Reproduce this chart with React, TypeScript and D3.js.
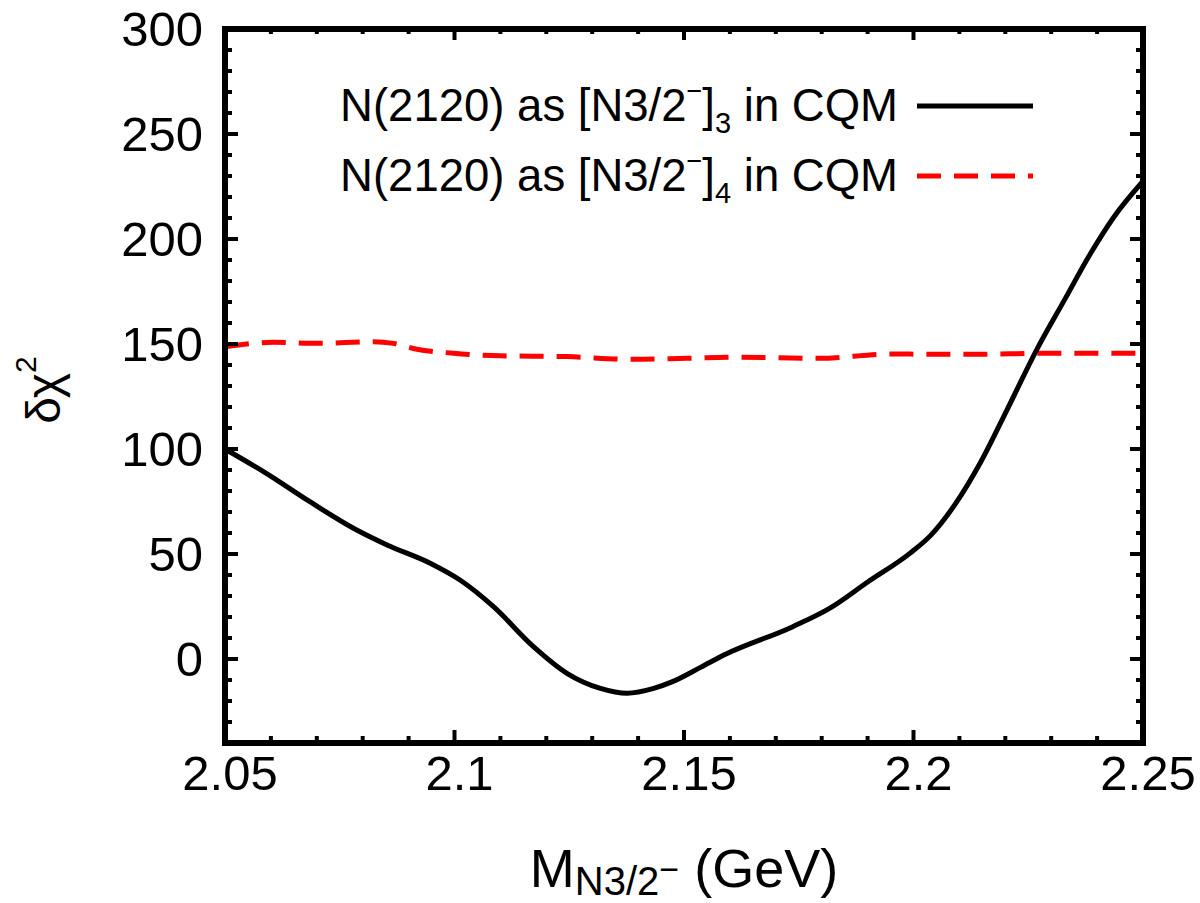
import React from "react";
import * as d3 from "d3";

// Solid curve: N(2120) assigned to the third N3/2- state of the CQM
const massSolid = [2.05, 2.059, 2.0685, 2.0787, 2.0853, 2.0947, 2.1012, 2.1085, 2.1172, 2.1245, 2.1318, 2.1376, 2.1434, 2.1475, 2.1536, 2.1587, 2.1737, 2.1817, 2.1901, 2.1992, 2.2038, 2.2092, 2.2145, 2.2207, 2.2268, 2.2329, 2.2386, 2.2437, 2.25];
const chi2Solid = [100, 88.4, 74.9, 61.4, 54.3, 45.6, 37.6, 24.9, 5.9, -6.8, -14.0, -16.3, -14.0, -10.8, -4.0, 1.9, 15.4, 24.1, 36.8, 50.3, 59.0, 74.1, 93.2, 120.1, 147.1, 171, 193.2, 210.6, 227.5];

// Dashed curve: N(2120) assigned to the fourth N3/2- state of the CQM
const massDashed = [2.05, 2.0605, 2.07, 2.0823, 2.0867, 2.0918, 2.0998, 2.11, 2.1245, 2.1383, 2.1507, 2.1618, 2.1794, 2.1947, 2.2115, 2.2306, 2.25];
const chi2Dashed = [148.7, 150.8, 150.3, 151.1, 150.3, 147.5, 145.6, 144.4, 144.0, 142.7, 143.2, 143.7, 143.2, 145.2, 145.1, 145.6, 145.6];

const xTickValues = [2.05, 2.1, 2.15, 2.2, 2.25];
const xTickLabels = ["2.05", "2.1", "2.15", "2.2", "2.25"];
const yTickValues = [0, 50, 100, 150, 200, 250, 300];

const FONT = "'Liberation Sans', Arial, Helvetica, sans-serif";

export default function App() {
  const W = 1200;
  const H = 903;
  const left = 225;
  const right = 1143;
  const top = 29;
  const bottom = 743;

  const x = d3.scaleLinear().domain([2.05, 2.25]).range([left, right]);
  const y = d3.scaleLinear().domain([-40, 300]).range([bottom, top]);

  const line = d3
    .line<[number, number]>()
    .x((d) => x(d[0]))
    .y((d) => y(d[1]))
    .curve(d3.curveMonotoneX);

  const solidPts = massSolid.map((m, i) => [m, chi2Solid[i]] as [number, number]);
  const dashedPts = massDashed.map((m, i) => [m, chi2Dashed[i]] as [number, number]);

  const xMinor = d3.range(0, 21).map((i) => 2.05 + i * 0.01).filter((v) => !xTickValues.some((t) => Math.abs(t - v) < 1e-6));
  const yMinor = d3.range(-40, 301, 10).filter((v) => v % 50 !== 0);

  const majorLen = 13;
  const minorLen = 7;
  const tickW = 4;

  return (
    <svg width={W} height={H} style={{ position: "absolute", left: 0, top: 0, background: "#fff" }} fontFamily={FONT}>
      <defs>
        <clipPath id="plot-area">
          <rect x={left} y={top} width={right - left} height={bottom - top} />
        </clipPath>
      </defs>

      {/* curves */}
      <g clipPath="url(#plot-area)">
        <path d={line(dashedPts) || ""} fill="none" stroke="#ff0000" strokeWidth={5} strokeDasharray="24 13" />
        <path d={line(solidPts) || ""} fill="none" stroke="#000" strokeWidth={5} strokeLinejoin="round" />
      </g>

      {/* ticks */}
      <g stroke="#000" strokeWidth={tickW}>
        {xTickValues.map((v) => (
          <g key={"xm" + v}>
            <line x1={x(v)} x2={x(v)} y1={bottom} y2={bottom - majorLen} />
            <line x1={x(v)} x2={x(v)} y1={top} y2={top + majorLen - 2} />
          </g>
        ))}
        {xMinor.map((v) => (
          <g key={"xn" + v}>
            <line x1={x(v)} x2={x(v)} y1={bottom} y2={bottom - minorLen} />
            <line x1={x(v)} x2={x(v)} y1={top} y2={top + minorLen - 2} />
          </g>
        ))}
        {yTickValues.map((v) => (
          <g key={"ym" + v}>
            <line x1={left} x2={left + majorLen} y1={y(v)} y2={y(v)} />
            <line x1={right} x2={right - majorLen} y1={y(v)} y2={y(v)} />
          </g>
        ))}
        {yMinor.map((v) => (
          <g key={"yn" + v}>
            <line x1={left} x2={left + minorLen} y1={y(v)} y2={y(v)} />
            <line x1={right} x2={right - minorLen} y1={y(v)} y2={y(v)} />
          </g>
        ))}
      </g>

      {/* frame */}
      <rect x={left} y={top} width={right - left} height={bottom - top} fill="none" stroke="#000" strokeWidth={6} />

      {/* tick labels */}
      <g fontSize={49} fill="#000">
        {xTickValues.map((v, i) => (
          <text key={"xl" + v} x={x(v) + 5} y={790} textAnchor="middle">
            {xTickLabels[i]}
          </text>
        ))}
        {yTickValues.map((v) => (
          <text key={"yl" + v} x={203} y={y(v)} dy="0.355em" textAnchor="end">
            {v}
          </text>
        ))}
      </g>

      {/* axis titles */}
      <text x={684} y={887} textAnchor="middle" fontSize={54} fill="#000">
        M
        <tspan fontSize={40} dy={8}>N3/2</tspan>
        <tspan fontSize={34} dy={-14}>{"\u2212"}</tspan>
        <tspan fontSize={54} dy={6}>{" (GeV)"}</tspan>
      </text>
      <text transform="translate(60,390) rotate(-90)" textAnchor="middle" fontSize={48} fill="#000">
        {"\u03b4\u03c7"}
        <tspan fontSize={30} dy={-24}>2</tspan>
      </text>

      {/* legend */}
      <g fontSize={45.5} fill="#000">
        <text x={898} y={121} textAnchor="end">
          {"N(2120) as [N3/2"}
          <tspan fontSize={27} dy={-21}>{"\u2212"}</tspan>
          <tspan dy={21}>]</tspan>
          <tspan fontSize={29} dy={12}>3</tspan>
          <tspan dy={-12}>{" in CQM"}</tspan>
        </text>
        <line x1={917} x2={1033} y1={106} y2={106} stroke="#000" strokeWidth={5} />
        <text x={898} y={191} textAnchor="end">
          {"N(2120) as [N3/2"}
          <tspan fontSize={27} dy={-21}>{"\u2212"}</tspan>
          <tspan dy={21}>]</tspan>
          <tspan fontSize={29} dy={12}>4</tspan>
          <tspan dy={-12}>{" in CQM"}</tspan>
        </text>
        <line x1={917} x2={1033} y1={176} y2={176} stroke="#ff0000" strokeWidth={5} strokeDasharray="24 13" />
      </g>
    </svg>
  );
}
